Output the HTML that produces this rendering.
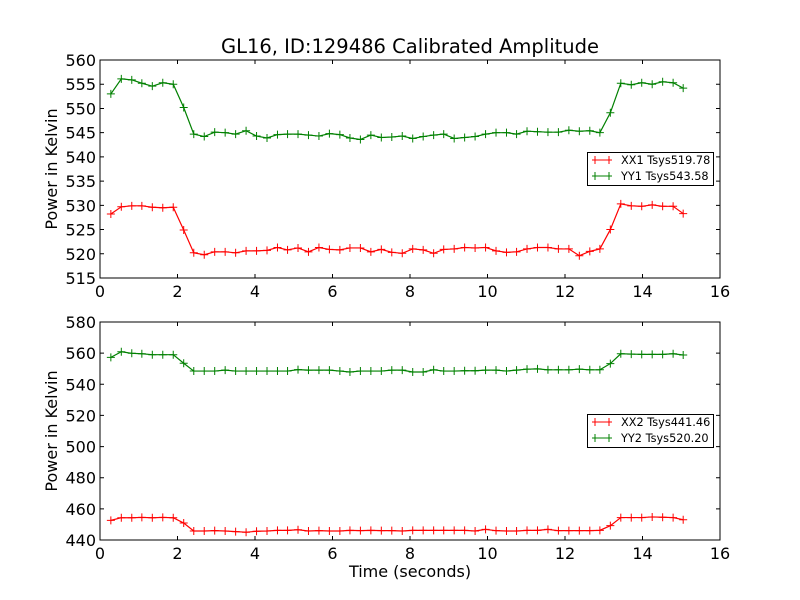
<!DOCTYPE html>
<html><head><meta charset="utf-8"><style>
html,body{margin:0;padding:0;background:#fff;}
svg{display:block;font-family:"DejaVu Sans","Liberation Sans",sans-serif;}
</style></head><body>
<svg id="chart" width="800" height="600" viewBox="0 0 800 600" xmlns="http://www.w3.org/2000/svg">
<rect width="800" height="600" fill="#fff"/>
<text x="410" y="53" font-size="19.5" text-anchor="middle">GL16, ID:129486 Calibrated Amplitude</text>
</svg>
<script>
const times = [0.28,0.55,0.82,1.08,1.35,1.62,1.89,2.16,2.42,2.69,2.96,3.23,3.50,3.77,4.04,4.31,4.58,4.84,5.11,5.38,5.65,5.92,6.19,6.45,6.72,6.99,7.26,7.53,7.80,8.07,8.34,8.61,8.87,9.14,9.41,9.68,9.95,10.22,10.49,10.75,11.02,11.29,11.56,11.83,12.10,12.37,12.64,12.90,13.17,13.44,13.71,13.98,14.25,14.52,14.79,15.05];
const xx1 = [528.2,529.7,529.9,529.9,529.6,529.5,529.6,524.9,520.2,519.8,520.4,520.4,520.2,520.6,520.6,520.7,521.3,520.8,521.2,520.4,521.3,520.9,520.8,521.2,521.2,520.4,520.9,520.3,520.1,521.0,520.8,520.1,520.9,521.0,521.3,521.2,521.3,520.6,520.3,520.4,521.0,521.3,521.3,521.0,521.0,519.6,520.5,521.0,525.0,530.3,529.9,529.8,530.1,529.8,529.8,528.3];
const yy1 = [553.0,556.1,555.9,555.2,554.6,555.3,555.0,550.2,544.7,544.2,545.1,545.0,544.7,545.4,544.3,543.9,544.6,544.7,544.7,544.5,544.3,544.8,544.6,543.9,543.6,544.5,544.0,544.1,544.3,543.8,544.2,544.5,544.7,543.8,544.0,544.2,544.7,545.0,545.0,544.7,545.3,545.2,545.1,545.1,545.5,545.3,545.4,545.0,549.1,555.2,554.9,555.3,555.0,555.5,555.3,554.2];
const xx2 = [452.6,454.3,454.3,454.5,454.3,454.5,454.3,450.9,445.8,445.8,446.0,445.8,445.4,445.0,445.6,445.8,446.2,446.2,446.6,445.8,446.0,445.8,445.8,446.2,446.0,446.2,446.0,446.0,445.8,446.2,446.2,446.2,446.2,446.2,446.2,445.8,446.8,446.0,445.8,445.8,446.2,446.2,446.8,446.0,446.0,446.0,446.0,446.2,449.2,454.4,454.4,454.4,454.8,454.6,454.4,453.0];
const yy2 = [557.3,560.9,559.9,559.6,559.0,559.0,559.0,553.5,548.5,548.5,548.5,549.1,548.5,548.5,548.5,548.5,548.5,548.5,549.4,549.1,549.1,549.1,548.5,547.9,548.5,548.5,548.5,549.1,549.1,547.9,547.9,549.3,548.5,548.5,548.7,548.7,549.1,549.1,548.5,549.1,549.7,549.9,549.3,549.3,549.3,549.7,549.3,549.3,553.3,559.6,559.4,559.2,559.2,559.2,559.6,558.8];
const xTicks = [0,2,4,6,8,10,12,14,16];
const yTicksTop = [515,520,525,530,535,540,545,550,555,560];
const yTicksBot = [440,460,480,500,520,540,560,580];

const NS = "http://www.w3.org/2000/svg";
const svg = document.getElementById('chart');
function mk(tag, attrs, parent){
  const e = document.createElementNS(NS, tag);
  for (const k in attrs) e.setAttribute(k, attrs[k]);
  (parent||svg).appendChild(e);
  return e;
}
function panel(name, top, bottom, ymin, ymax, yTicks, seriesList, legendLabels, showXLabel){
  const L=100, R=720;
  const xs = v => L + (v-0)/(16-0)*(R-L);
  const ys = v => bottom - (v-ymin)/(ymax-ymin)*(bottom-top);
  const g = mk('g', {});
  
  
  seriesList.forEach((s, si) => {
    const pts = times.map((t,i)=>xs(t).toFixed(2)+','+ys(s.data[i]).toFixed(2)).join(' ');
    const pl = mk('polyline', {points: pts, fill:'none', stroke:s.color, 'stroke-width':1.2}, g);
    
    
    times.forEach((t,i)=>{
      const x=xs(t), y=ys(s.data[i]);
      const m = mk('path', {d:`M${x-4},${y}H${x+4}M${x},${y-4}V${y+4}`, stroke:s.color, 'stroke-width':1}, g);
      
      
    });
  });
  const fr = mk('rect', {x:L, y:top, width:R-L, height:bottom-top, fill:'none', stroke:'#000', 'stroke-width':1}, g);
  
  
  xTicks.forEach(v=>{
    const x=xs(v);
    mk('path', {d:`M${x},${bottom}v-4M${x},${top}v4`, stroke:'#000'}, g);
    const t = mk('text', {x:x, y:bottom+19, 'font-size':16, 'text-anchor':'middle'}, g);
    
    
    t.textContent = v;
  });
  yTicks.forEach(v=>{
    const y=ys(v);
    mk('path', {d:`M${L},${y}h4M${R},${y}h-4`, stroke:'#000'}, g);
    const t = mk('text', {x:L-4, y:y+6, 'font-size':16, 'text-anchor':'end'}, g);
    
    
    t.textContent = v;
  });
  const yl = mk('text', {x:0, y:0, 'font-size':16, 'text-anchor':'middle', transform:`translate(57,${(top+bottom)/2}) rotate(-90)`}, g);
  
  
  yl.textContent = 'Power in Kelvin';
  if (showXLabel){
    const xl = mk('text', {x:410, y:577, 'font-size':16, 'text-anchor':'middle'}, g);
    
    
    xl.textContent = 'Time (seconds)';
  }
  const ly = top + 92;
  const lg = mk('g', {}, g);
  
  
  mk('rect', {x:587.5, y:ly+0.5, width:126, height:33, fill:'#fff', stroke:'#000', 'stroke-width':1}, lg);
  seriesList.forEach((s,i)=>{
    const y = ly + 8 + i*16;
    const e = mk('g', {}, lg);
    
    
    mk('path', {d:`M592,${y}H612M595,${y-4}v8M609,${y-4}v8`, stroke:s.color, 'stroke-width':1}, e);
    const t = mk('text', {x:621, y:y+4, 'font-size':11.3}, e);
    t.textContent = legendLabels[i];
  });
}
panel('top-panel', 60, 278, 515, 560, yTicksTop,
  [{name:'xx1', data:xx1, color:'#ff0000'},{name:'yy1', data:yy1, color:'#008000'}],
  ['XX1 Tsys519.78','YY1 Tsys543.58'], false);
panel('bottom-panel', 322, 540, 440, 580, yTicksBot,
  [{name:'xx2', data:xx2, color:'#ff0000'},{name:'yy2', data:yy2, color:'#008000'}],
  ['XX2 Tsys441.46','YY2 Tsys520.20'], true);
</script>
</body></html>
